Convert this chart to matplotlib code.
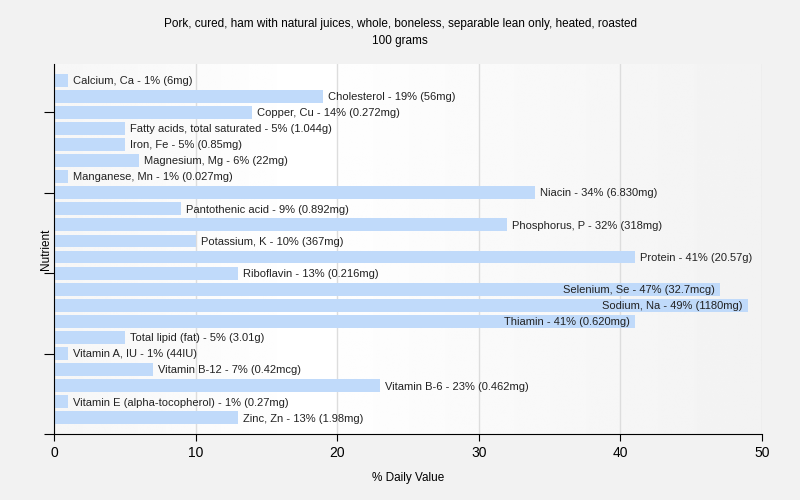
import numpy as np
import matplotlib.pyplot as plt

plt.rcParams['font.family'] = ['Liberation Sans', 'DejaVu Sans']

title = "Pork, cured, ham with natural juices, whole, boneless, separable lean only, heated, roasted\n100 grams"

nutrients = [
    "Calcium, Ca", "Cholesterol", "Copper, Cu", "Fatty acids, total saturated",
    "Iron, Fe", "Magnesium, Mg", "Manganese, Mn", "Niacin", "Pantothenic acid",
    "Phosphorus, P", "Potassium, K", "Protein", "Riboflavin", "Selenium, Se",
    "Sodium, Na", "Thiamin", "Total lipid (fat)", "Vitamin A, IU", "Vitamin B-12",
    "Vitamin B-6", "Vitamin E (alpha-tocopherol)", "Zinc, Zn",
]
daily_pct = [1, 19, 14, 5, 5, 6, 1, 34, 9, 32, 10, 41, 13, 47, 49, 41, 5, 1, 7, 23, 1, 13]
amounts = [
    "6mg", "56mg", "0.272mg", "1.044g", "0.85mg", "22mg", "0.027mg", "6.830mg",
    "0.892mg", "318mg", "367mg", "20.57g", "0.216mg", "32.7mcg", "1180mg",
    "0.620mg", "3.01g", "44IU", "0.42mcg", "0.462mg", "0.27mg", "1.98mg",
]

bar_color = "#c0dafa"
bg = "#f2f2f2"

fig = plt.figure(figsize=(8, 5), dpi=100, facecolor=bg)
ax = fig.add_axes([0.0675, 0.132, 0.885, 0.74])

# soft horizontal gradient behind the bars
grad = np.interp(np.linspace(0, 1, 256), [0, 0.35, 1], [0.965, 1.0, 0.95])
ax.imshow(np.tile(grad, (2, 1)), cmap="gray", vmin=0, vmax=1, aspect="auto",
          extent=[0, 50, 22, -1], zorder=0, interpolation="bilinear")

ypos = np.arange(len(nutrients))
ax.barh(ypos, daily_pct, height=0.8, color=bar_color, zorder=2)

ax.set_xlim(0, 50)
ax.set_ylim(22, -1)
ax.set_xticks([0, 10, 20, 30, 40, 50])
ax.set_yticks([2, 7, 12, 17, 22])
ax.set_yticklabels([])
ax.grid(axis="x", color="#dddddd", linewidth=1, zorder=1)
ax.set_axisbelow(True)
for side in ["top", "right"]:
    ax.spines[side].set_visible(False)
ax.tick_params(axis="x", labelsize=10, length=5, color="black")
ax.tick_params(axis="y", length=7, color="black")

ax.set_xlabel("% Daily Value", fontsize=8.5, labelpad=9)
ax.set_ylabel("Nutrient", fontsize=8.5, labelpad=-9)
fig.suptitle(title, fontsize=8.5, y=0.965, linespacing=1.6)

fig.canvas.draw()
renderer = fig.canvas.get_renderer()
right_px = ax.transData.transform((50, 0))[0]
for y, name, v, amt in zip(ypos, nutrients, daily_pct, amounts):
    label = f"{name} - {v}% ({amt})"
    t = ax.text(v + 0.35, y + 0.05, label, va="center", ha="left", fontsize=8,
                color="#222222", zorder=3)
    bb = t.get_window_extent(renderer)
    if bb.x1 > right_px:
        t.set_position((v - 0.35, y + 0.05))
        t.set_ha("right")

fig.savefig("out.png", dpi=100, facecolor=bg)
